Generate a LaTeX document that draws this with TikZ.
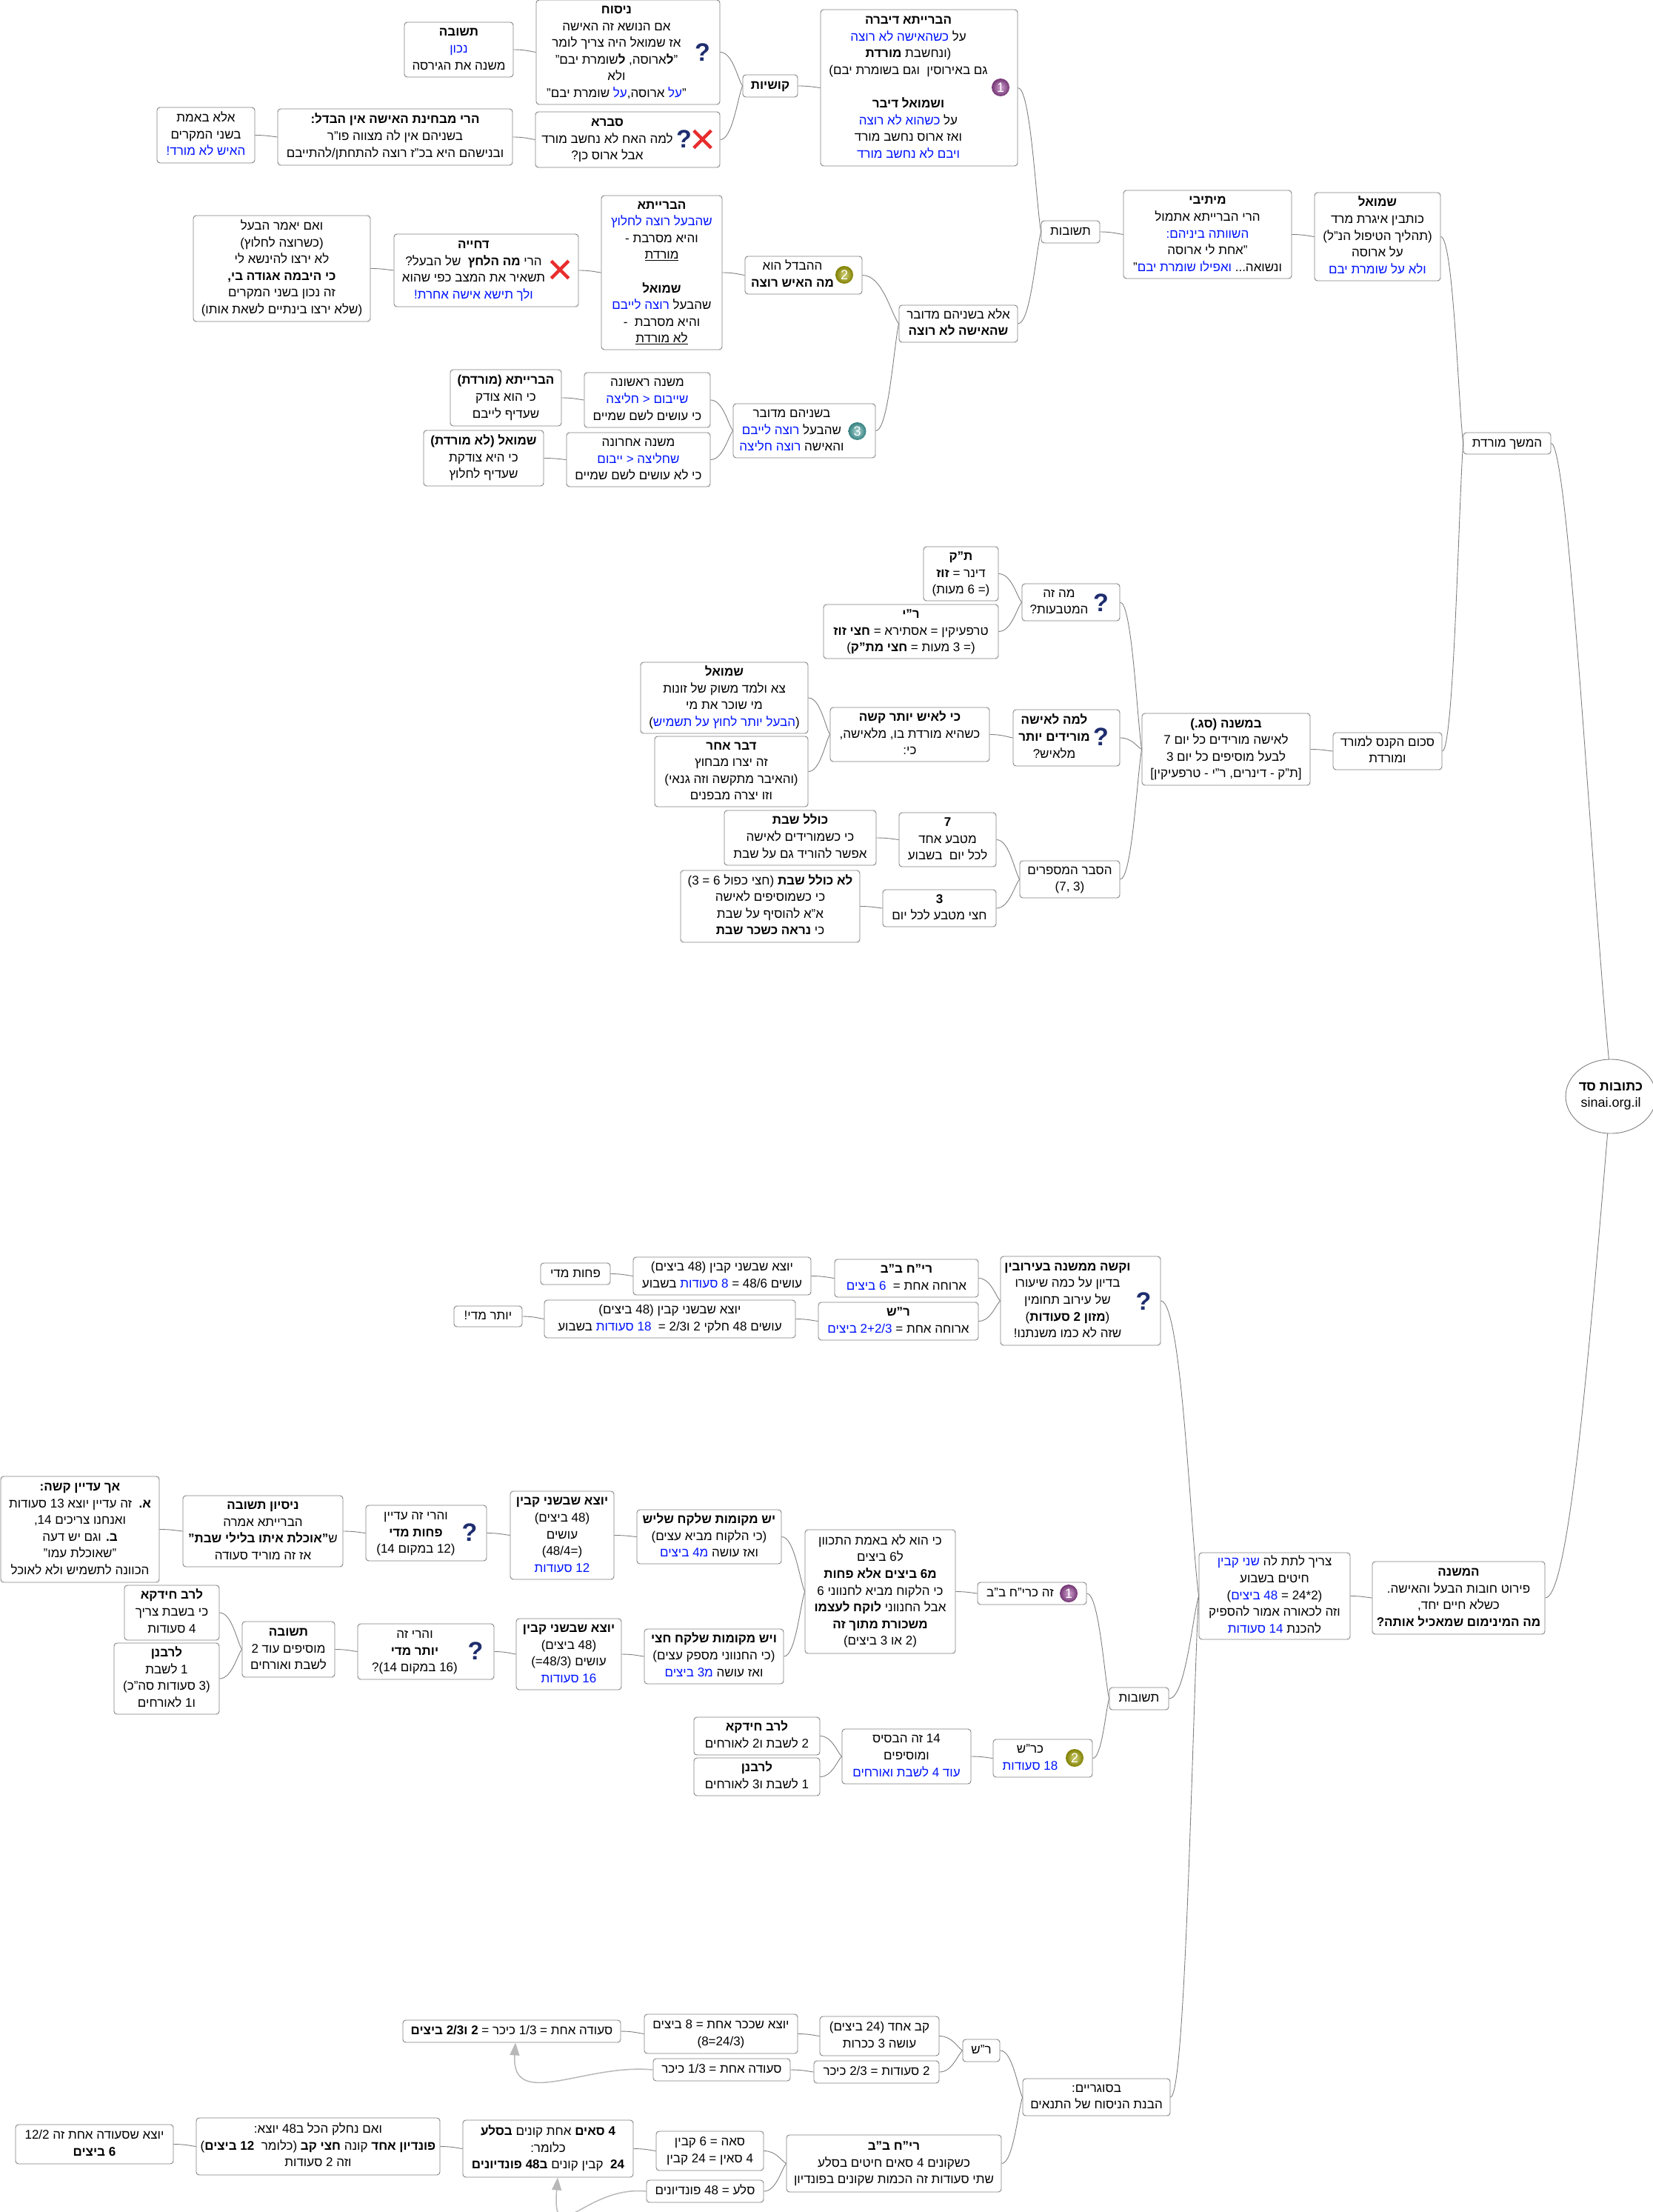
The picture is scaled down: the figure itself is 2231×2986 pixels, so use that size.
\documentclass[tikz,border=0pt]{standalone}
\usepackage{fontspec}
\usepackage{array}
\usetikzlibrary{calc,shapes.geometric,shapes.misc,arrows.meta}
\setmainfont[Script=Hebrew]{Liberation Sans}
\TeXXeTstate=1
\definecolor{hblue}{RGB}{0,20,255}
\definecolor{edgegray}{RGB}{128,128,128}
\definecolor{qnavy}{RGB}{30,45,110}
\definecolor{redmark}{RGB}{232,45,45}
\newcommand\bd[1]{{\bfseries #1}}
\newcommand\bl[1]{{\color{hblue}#1}}
\newcommand\ul[1]{$\underline{\hbox{\beginR #1\endR}}$}
\tikzset{
  box/.style={draw=edgegray,line width=0.9pt,fill=white,rounded corners=4pt,inner sep=0pt,text=black,
    font=\fontsize{17pt}{22.6pt}\selectfont},
  rootnode/.style={draw=edgegray,line width=0.9pt,fill=white,ellipse,inner sep=0pt,
    minimum width=111pt,minimum height=100pt,font=\fontsize{18pt}{22.6pt}\selectfont,align=center},
  conn/.style={draw=edgegray,line width=0.9pt},
  link/.style={draw=black!28,line width=1.5pt,-{Triangle[length=17pt,width=13pt]}},
  qmark/.style={inner sep=0pt,text=qnavy,font=\fontsize{34pt}{34pt}\selectfont\bfseries},
  redx/.style={cross out,draw=redmark,line width=4.5pt,minimum size=19pt,inner sep=0pt},
  badge/.style={circle,minimum size=24pt,inner sep=0pt,text=white,font=\fontsize{18pt}{18pt}\selectfont},
  badgea/.style={badge,shading=radial,inner color=violet!35!white,outer color=violet!55!gray!90!black},
  badgeb/.style={badge,shading=radial,inner color=olive!35!white,outer color=olive!60!gray},
  badgec/.style={badge,shading=radial,inner color=teal!30!white,outer color=teal!60!gray},
}
\newcommand\bx[7][0]{\node[box,minimum width={(#5-#3)*1pt},minimum height={(#6-#4)*1pt}] (#2) at ({(#3+#5)/2},{(#4+#6)/2})
  {\begin{tabular}{@{}c@{}}#7\end{tabular}\kern#1pt\relax};}
\newcommand\cn[2]{\draw[conn] (#1.east) .. controls ($(#1.east)!0.55!(#2.west |- #1.east)$) and ($(#1.east)!0.78!(#2.west)$) .. (#2.west);}
\begin{document}
\begin{tikzpicture}[x=1pt,y=-1pt]
\useasboundingbox (0,0) rectangle (2231,2986);
% ---- upper branch
\node[rootnode] (root) at (2175,1480) {\beginR\bd{כתובות סד}\endR\\sinai.org.il};
\bx{hemshech}{1976}{584}{2094}{613}{\beginR המשך מורדת\endR}
\bx{shmuel}{1775}{260}{1945}{379}{\beginR\bd{שמואל}\endR\\\beginR כותבין איגרת מרד\endR\\\beginR (תהליך הטיפול הנ"ל)\endR\\\beginR על ארוסה\endR\\\bl{\beginR ולא על שומרת יבם\endR}}
\bx{mitivi}{1517}{257}{1744}{376}{\beginR\bd{מיתיבי}\endR\\\beginR הרי הברייתא אתמול\endR\\\bl{\beginR השוותה ביניהם:\endR}\\\beginR "אחת לי ארוסה\endR\\\beginR "\endR\bl{\beginR ואפילו שומרת יבם\endR}\ \beginR ונשואה...\endR}
\bx{teshuvota}{1406}{298}{1485}{328}{\beginR תשובות\endR}
\bx[29]{barone}{1108}{13}{1374}{224}{\beginR\bd{הברייתא דיברה}\endR\\\bl{\beginR כשהאישה לא רוצה\endR}\ \beginR על\endR\\\beginR (ונחשבת \bd{מורדת}\endR\\\beginR גם באירוסין\ \ וגם בשומרת יבם)\endR\\ \\\beginR\bd{ושמואל דיבר}\endR\\\bl{\beginR כשהוא לא רוצה\endR}\ \beginR על\endR\\\beginR ואז ארוס נחשב מורד\endR\\\bl{\beginR ויבם לא נחשב מורד\endR}}
\bx{kushiyot}{1003}{101}{1077}{131}{\beginR\bd{קושיות}\endR}
\bx[31]{nisuach}{724}{0}{972}{141}{\beginR\bd{ניסוח}\endR\\\beginR אם הנושא זה האישה\endR\\\beginR אז שמואל היה צריך לומר\endR\\\beginR "\bd{ל}ארוסה, \bd{ל}שומרת יבם"\endR\\\beginR ולא\endR\\\beginR שומרת יבם"\endR\ \bl{\beginR על\endR}\beginR ארוסה,\endR\ \bl{\beginR על\endR}\beginR "\endR}
\bx{tshuvaa}{546}{30}{693}{104}{\beginR\bd{תשובה}\endR\\\bl{\beginR נכון\endR}\\\beginR משנה את הגירסה\endR}
\bx[55]{svara}{723}{151}{972}{226}{\beginR\bd{סברא}\endR\\\beginR למה האח לא נחשב מורד\endR\\\beginR אבל ארוס כן?\endR}
\bx{bechina}{375}{147}{692}{223}{\beginR\bd{הרי מבחינת האישה אין הבדל:}\endR\\\beginR בשניהם אין לה מצווה פו"ר\endR\\\beginR ובנישהם היא בכ"ז רוצה להתחתן/להתייבם\endR}
\bx{beemet}{212}{145}{344}{220}{\beginR אלא באמת\endR\\\beginR בשני המקרים\endR\\\bl{\beginR האיש לא מורד!\endR}}
\bx{elabe}{1214}{412}{1374}{462}{\beginR אלא בשניהם מדובר\endR\\\beginR\bd{שהאישה לא רוצה}\endR}
\bx[30]{hevdel}{1006}{346}{1164}{397}{\beginR ההבדל הוא\endR\\\beginR\bd{מה האיש רוצה}\endR}
\bx{bartwo}{812}{264}{975}{472}{\beginR\bd{הברייתא}\endR\\\bl{\beginR שהבעל רוצה לחלוץ\endR}\\\beginR והיא מסרבת -\endR\\\beginR\ul{מורדת}\endR\\ \\\beginR\bd{שמואל}\endR\\\bl{\beginR רוצה לייבם\endR}\ \beginR שהבעל\endR\\\beginR והיא מסרבת\ \ -\endR\\\beginR\ul{לא מורדת}\endR}
\bx[34]{dchiya}{532}{316}{781}{414}{\beginR\bd{דחייה}\endR\\\beginR הרי \bd{מה הלחץ}\ \ של הבעל?\endR\\\beginR תשאיר את המצב כפי שהוא\endR\\\bl{\beginR ולך תישא אישה אחרת!\endR}}
\bx{veim}{261}{291}{500}{434}{\beginR ואם יאמר הבעל\endR\\\beginR (כשרוצה לחלוץ)\endR\\\beginR לא ירצו להינשא לי\endR\\\beginR\bd{כי היבמה אגודה בי,}\endR\\\beginR זה נכון בשני המקרים\endR\\\beginR (שלא ירצו בינתיים לשאת אותו)\endR}
\bx[34]{bishneihem}{990}{545}{1182}{618}{\beginR בשניהם מדובר\endR\\\bl{\beginR רוצה לייבם\endR}\ \beginR שהבעל\endR\\\bl{\beginR רוצה חליצה\endR}\ \beginR והאישה\endR}
\bx{mishnaa}{789}{503}{959}{577}{\beginR משנה ראשונה\endR\\\bl{\beginR שייבום < חליצה\endR}\\\beginR כי עושים לשם שמיים\endR}
\bx{mishnab}{765}{584}{959}{657}{\beginR משנה אחרונה\endR\\\bl{\beginR שחליצה < ייבום\endR}\\\beginR כי לא עושים לשם שמיים\endR}
\bx{barthree}{608}{499}{758}{575}{\beginR\bd{הברייתא (מורדת)}\endR\\\beginR כי הוא צודק\endR\\\beginR שעדיף לייבם\endR}
\bx{shmthree}{572}{581}{734}{656}{\beginR\bd{שמואל (לא מורדת)}\endR\\\beginR כי היא צודקת\endR\\\beginR שעדיף לחלוץ\endR}
% ---- penalty branch
\bx{schum}{1800}{989}{1947}{1039}{\beginR סכום הקנס למורד\endR\\\beginR ומורדת\endR}
\bx{bemishna}{1542}{963}{1769}{1060}{\beginR\bd{במשנה (סג.)}\endR\\\beginR לאישה מורידים כל יום 7\endR\\\beginR לבעל מוסיפים כל יום 3\endR\\\beginR [ת"ק - דינרים, ר"י - טרפעיקין]\endR}
\bx[32]{mazeh}{1380}{788}{1512}{838}{\beginR מה זה\endR\\\beginR המטבעות?\endR}
\bx{tk}{1247}{738}{1348}{811}{\beginR\bd{ת"ק}\endR\\\beginR דינר = \bd{זוז}\endR\\\beginR (= 6 מעות)\endR}
\bx{ry}{1112}{816}{1348}{889}{\beginR\bd{ר"י}\endR\\\beginR טרפעיקין = אסתירא = \bd{חצי זוז}\endR\\\beginR (= 3 מעות = \bd{חצי מת"ק})\endR}
\bx[33]{lama}{1368}{958}{1512}{1034}{\beginR\bd{למה לאישה}\endR\\\beginR\bd{מורידים יותר}\endR\\\beginR מלאיש?\endR}
\bx{kilaish}{1121}{955}{1336}{1028}{\beginR\bd{כי לאיש יותר קשה}\endR\\\beginR כשהיא מורדת בו, מלאישה,\endR\\\beginR כי:\endR}
\bx{shmfour}{865}{894}{1091}{990}{\beginR\bd{שמואל}\endR\\\beginR צא ולמד משוק של זונות\endR\\\beginR מי שוכר את מי\endR\\\beginR)\endR\bl{\beginR הבעל יותר לחוץ על תשמיש\endR}\beginR(\endR}
\bx{davar}{884}{994}{1091}{1089}{\beginR\bd{דבר אחר}\endR\\\beginR זה יצרו מבחוץ\endR\\\beginR (והאיבר מתקשה וזה גנאי)\endR\\\beginR וזו יצרה מבפנים\endR}
\bx{hesber}{1377}{1162}{1512}{1212}{\beginR הסבר המספרים\endR\\\beginR (3 ,7)\endR}
\bx{seven}{1214}{1097}{1345}{1170}{\beginR\bd{7}\endR\\\beginR מטבע אחד\endR\\\beginR לכל יום\ \ בשבוע\endR}
\bx{kolel}{978}{1094}{1183}{1168}{\beginR\bd{כולל שבת}\endR\\\beginR כי כשמורידים לאישה\endR\\\beginR אפשר להוריד גם על שבת\endR}
\bx{three}{1192}{1201}{1345}{1251}{\beginR\bd{3}\endR\\\beginR חצי מטבע לכל יום\endR}
\bx{lokolel}{919}{1175}{1161}{1272}{\beginR\bd{לא כולל שבת} (חצי כפול 6 = 3)\endR\\\beginR כי כשמוסיפים לאישה\endR\\\beginR א"א להוסיף על שבת\endR\\\beginR כי \bd{נראה כשכר שבת}\endR}
% ---- lower branch
\bx{hamishna}{1853}{2108}{2086}{2206}{\beginR\bd{המשנה}\endR\\\beginR פירוט חובות הבעל והאישה.\endR\\\beginR כשלא חיים יחד,\endR\\\beginR\bd{מה המינימום שמאכיל אותה?}\endR}
\bx{tzarich}{1619}{2096}{1823}{2213}{\bl{\beginR שני קבין\endR}\ \beginR צריך לתת לה\endR\\\beginR חיטים בשבוע\endR\\\beginR)\endR\bl{\beginR 48 ביצים\endR}\ \beginR (2*24 =\endR\\\beginR וזה לכאורה אמור להספיק\endR\\\bl{\beginR 14 סעודות\endR}\ \beginR להכנת\endR}
\bx[35]{vekashe}{1351}{1696}{1567}{1816}{\beginR\bd{וקשה ממשנה בעירובין}\endR\\\beginR בדיון על כמה שיעורו\endR\\\beginR של עירוב תחומין\endR\\\beginR (\bd{מזון 2 סעודות})\endR\\\beginR שזה לא כמו משנתנו!\endR}
\bx{ryh}{1127}{1700}{1321}{1751}{\beginR\bd{רי"ח ב"ב}\endR\\\bl{\beginR 6 ביצים\endR}\ \ \beginR ארוחה אחת =\endR}
\bx{yotzea}{855}{1697}{1095}{1748}{\beginR יוצא שבשני קבין (48 ביצים)\endR\\\beginR בשבוע\endR\ \bl{\beginR 8 סעודות\endR}\ \beginR עושים 48/6 =\endR}
\bx{pachot}{730}{1705}{824}{1734}{\beginR פחות מדי\endR}
\bx{rsh}{1105}{1758}{1321}{1809}{\beginR\bd{ר"ש}\endR\\\bl{\beginR 2+2/3 ביצים\endR}\ \beginR ארוחה אחת =\endR}
\bx{yotzeb}{735}{1755}{1074}{1806}{\beginR יוצא שבשני קבין (48 ביצים)\endR\\\beginR בשבוע\endR\ \bl{\beginR 18 סעודות\endR}\ \ \beginR עושים 48 חלקי 2 ו2/3 =\endR}
\bx{yoter}{613}{1763}{705}{1791}{\beginR יותר מדי!\endR}
\bx{teshuvotb}{1498}{2278}{1578}{2308}{\beginR תשובות\endR}
\bx[32]{zekryh}{1320}{2136}{1467}{2166}{\beginR זה כרי"ח ב"ב\endR}
\bx{kihu}{1087}{2065}{1290}{2232}{\beginR כי הוא לא באמת התכוון\endR\\\beginR ל6 ביצים\endR\\\beginR\bd{מ6 ביצים אלא פחות}\endR\\\beginR כי הלקוח מביא לחנווני 6\endR\\\beginR אבל החנווני \bd{לוקח לעצמו}\endR\\\beginR\bd{משכורת מתוך זה}\endR\\\beginR (2 או 3 ביצים)\endR}
\bx{yesha}{860}{2038}{1055}{2111}{\beginR\bd{יש מקומות שלקח שליש}\endR\\\beginR (כי הלקוח מביא עצים)\endR\\\bl{\beginR מ4 ביצים\endR}\ \beginR ואז עושה\endR}
\bx{yeshb}{870}{2199}{1058}{2273}{\beginR\bd{ויש מקומות שלקח חצי}\endR\\\beginR (כי החנווני מספק עצים)\endR\\\bl{\beginR מ3 ביצים\endR}\ \beginR ואז עושה\endR}
\bx{ytwelve}{689}{2013}{829}{2132}{\beginR\bd{יוצא שבשני קבין}\endR\\\beginR (48 ביצים)\endR\\\beginR עושים\endR\\\beginR (=48/4)\endR\\\bl{\beginR 12 סעודות\endR}}
\bx{ysixteen}{697}{2185}{839}{2281}{\beginR\bd{יוצא שבשני קבין}\endR\\\beginR (48 ביצים)\endR\\\beginR עושים (48/3=)\endR\\\bl{\beginR 16 סעודות\endR}}
\bx[28]{vehareia}{494}{2032}{657}{2107}{\beginR והרי זה עדיין\endR\\\beginR\bd{פחות מדי}\endR\\\beginR (12 במקום 14)\endR}
\bx[30]{vehareib}{483}{2192}{667}{2267}{\beginR והרי זה\endR\\\beginR\bd{יותר מדי}\endR\\\beginR (16 במקום 14)?\endR}
\bx{nisayon}{247}{2019}{463}{2115}{\beginR\bd{ניסיון תשובה}\endR\\\beginR הברייתא אמרה\endR\\\beginR ש\bd{"אוכלת איתו בלילי שבת"}\endR\\\beginR אז זה מוריד סעודה\endR}
\bx{ach}{1}{1993}{215}{2136}{\beginR\bd{אך עדיין קשה:}\endR\\\beginR\bd{א.}\ \ זה עדיין יוצא 13 סעודות\endR\\\beginR ואנחנו צריכים 14,\endR\\\beginR\bd{ב.} וגם יש דעה\endR\\\beginR "שאוכלת עמו"\endR\\\beginR הכוונה לתשמיש ולא לאוכל\endR}
\bx{tshuvab}{327}{2189}{452}{2264}{\beginR\bd{תשובה}\endR\\\beginR מוסיפים עוד 2\endR\\\beginR לשבת ואורחים\endR}
\bx{rhone}{168}{2140}{296}{2214}{\beginR\bd{לרב חידקא}\endR\\\beginR כי בשבת צריך\endR\\\beginR 4 סעודות\endR}
\bx{ravone}{154}{2218}{296}{2314}{\beginR\bd{לרבנן}\endR\\\beginR 1 לשבת\endR\\\beginR (3 סעודות סה"כ)\endR\\\beginR ו1 לאורחים\endR}
\bx[34]{krsh}{1341}{2348}{1475}{2399}{\beginR כר"ש\endR\\\bl{\beginR 18 סעודות\endR}}
\bx{fourteen}{1137}{2334}{1311}{2408}{\beginR 14 זה הבסיס\endR\\\beginR ומוסיפים\endR\\\bl{\beginR עוד 4 לשבת ואורחים\endR}}
\bx{rhtwo}{937}{2318}{1107}{2369}{\beginR\bd{לרב חידקא}\endR\\\beginR 2 לשבת ו2 לאורחים\endR}
\bx{ravtwo}{937}{2373}{1107}{2424}{\beginR\bd{לרבנן}\endR\\\beginR 1 לשבת ו3 לאורחים\endR}
% ---- brackets branch
\bx{basug}{1381}{2806}{1580}{2856}{\beginR בסוגריים:\endR\\\beginR הבנת הניסוח של התנאים\endR}
\bx{rshc}{1300}{2753}{1350}{2783}{\beginR ר"ש\endR}
\bx{kav}{1107}{2722}{1268}{2775}{\beginR קב אחד (24 ביצים)\endR\\\beginR עושה 3 ככרות\endR}
\bx{twoseud}{1099}{2782}{1268}{2812}{\beginR 2 סעודות = 2/3 כיכר\endR}
\bx{yotzek}{870}{2719}{1077}{2772}{\beginR יוצא שככר אחת = 8 ביצים\endR\\\beginR (24/3=8)\endR}
\bx{seudaa}{544}{2727}{838}{2757}{\beginR סעודה אחת = 1/3 כיכר = \bd{2 ו2/3 ביצים}\endR}
\bx{seudab}{882}{2779}{1067}{2809}{\beginR סעודה אחת = 1/3 כיכר\endR}
\bx{ryhc}{1062}{2882}{1352}{2959}{\beginR\bd{רי"ח ב"ב}\endR\\\beginR כשקונים 4 סאים חיטים בסלע\endR\\\beginR שתי סעודות זה הכמות שקונים בפונדיון\endR}
\bx{seah}{886}{2877}{1031}{2930}{\beginR סאה = 6 קבין\endR\\\beginR 4 סאין = 24 קבין\endR}
\bx{sela}{873}{2943}{1031}{2973}{\beginR סלע = 48 פונדיונים\endR}
\bx{arba}{625}{2862}{855}{2939}{\beginR\bd{4 סאים} אחת קונים \bd{בסלע}\endR\\\beginR כלומר:\endR\\\beginR\bd{24}\ \ קבין קונים \bd{ב48 פונדיונים}\endR}
\bx{veimm}{265}{2859}{594}{2936}{\beginR ואם נחלק הכל ב48 יוצא:\endR\\\beginR\bd{פונדיון אחד} קונה \bd{חצי קב} (כלומר\ \ \bd{12 ביצים})\endR\\\beginR וזה 2 סעודות\endR}
\bx{yotzes}{21}{2868}{234}{2921}{\beginR יוצא שסעודה אחת זה 12/2\endR\\\beginR\bd{6 ביצים}\endR}
% ---- icons
\node[qmark] (qa) at (948.5,71) {?};
\node[qmark] (qb) at (923.5,188) {?};
\node[redx] (xa) at (948.5,188) {};
\node[redx] (xb) at (756,364) {};
\node[qmark] (qc) at (1486.5,814) {?};
\node[qmark] (qd) at (1486.5,995) {?};
\node[qmark] (qe) at (1544,1757) {?};
\node[qmark] (qf) at (634,2069) {?};
\node[qmark] (qg) at (642,2229) {?};
\node[badgea] (ba) at (1351,118) {1};
\node[badgeb] (bb) at (1140,371) {2};
\node[badgec] (bc) at (1157.5,582) {3};
\node[badgea] (bd) at (1443,2151) {1};
\node[badgeb] (be) at (1451,2373) {2};
% ---- connectors
\draw[conn] (hemshech.east) .. controls (2118,598) and (2150,1200) .. (root.93);
\draw[conn] (hamishna.east) .. controls (2115,2157) and (2140,1900) .. (root.-95);
\cn{shmuel}{hemshech}\cn{schum}{hemshech}
\cn{mitivi}{shmuel}\cn{teshuvota}{mitivi}\cn{barone}{teshuvota}\cn{elabe}{teshuvota}
\cn{kushiyot}{barone}\cn{nisuach}{kushiyot}\cn{svara}{kushiyot}\cn{tshuvaa}{nisuach}
\cn{bechina}{svara}\cn{beemet}{bechina}\cn{hevdel}{elabe}\cn{bishneihem}{elabe}
\cn{bartwo}{hevdel}\cn{dchiya}{bartwo}\cn{veim}{dchiya}\cn{mishnaa}{bishneihem}\cn{mishnab}{bishneihem}
\cn{barthree}{mishnaa}\cn{shmthree}{mishnab}
\cn{bemishna}{schum}\cn{mazeh}{bemishna}\cn{lama}{bemishna}\cn{hesber}{bemishna}
\cn{tk}{mazeh}\cn{ry}{mazeh}\cn{kilaish}{lama}\cn{shmfour}{kilaish}\cn{davar}{kilaish}
\cn{seven}{hesber}\cn{three}{hesber}\cn{kolel}{seven}\cn{lokolel}{three}
\cn{tzarich}{hamishna}\cn{vekashe}{tzarich}\cn{teshuvotb}{tzarich}\cn{basug}{tzarich}
\cn{ryh}{vekashe}\cn{rsh}{vekashe}\cn{yotzea}{ryh}\cn{pachot}{yotzea}\cn{yotzeb}{rsh}\cn{yoter}{yotzeb}
\cn{zekryh}{teshuvotb}\cn{krsh}{teshuvotb}\cn{kihu}{zekryh}\cn{yesha}{kihu}\cn{yeshb}{kihu}
\cn{ytwelve}{yesha}\cn{vehareia}{ytwelve}\cn{nisayon}{vehareia}\cn{ach}{nisayon}
\cn{ysixteen}{yeshb}\cn{vehareib}{ysixteen}\cn{tshuvab}{vehareib}\cn{rhone}{tshuvab}\cn{ravone}{tshuvab}
\cn{fourteen}{krsh}\cn{rhtwo}{fourteen}\cn{ravtwo}{fourteen}
\cn{rshc}{basug}\cn{ryhc}{basug}\cn{kav}{rshc}\cn{twoseud}{rshc}\cn{yotzek}{kav}\cn{seudaa}{yotzek}\cn{seudab}{twoseud}
\cn{seah}{ryhc}\cn{sela}{ryhc}\cn{arba}{seah}\cn{veimm}{arba}\cn{yotzes}{veimm}
\draw[link] (seudab.west) .. controls (790,2785) and (690,2850) .. ($(seudaa.south)+(5,0)$);
\draw[link] (sela.west) .. controls (790,2950) and (745,3040) .. ($(arba.south)+(13,0)$);
\end{tikzpicture}
\end{document}
